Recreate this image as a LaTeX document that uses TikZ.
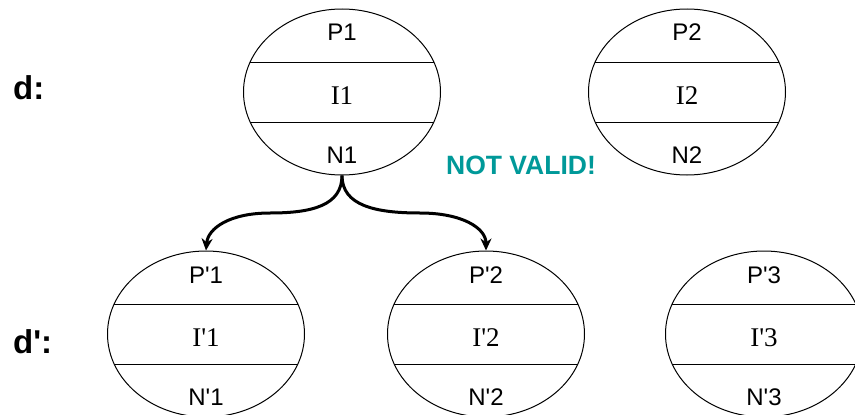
\documentclass[tikz,border=0pt]{standalone}
\usepackage{fontspec}
\setmainfont{Liberation Sans}
\newfontfamily\myserif{Liberation Serif}
\usetikzlibrary{shapes.geometric,arrows.meta,calc}
\definecolor{notvalidcol}{RGB}{0,153,153}
\newcommand\qq{\textquotesingle}
\newcommand\mycell[6]{%
  \node[cellshape] (#1) at (#2,#3) {};
  \draw[chord] ($(#1.center)+(-91.8,-30)$) -- ($(#1.center)+(91.8,-30)$);
  \draw[chord] ($(#1.center)+(-91.8,30)$) -- ($(#1.center)+(91.8,30)$);
  \node[plab] (#1p) at ($(#1.center)+(0,-51)$) {#4};
  \node[ilab] (#1i) at ($(#1.center)+(0,12)$) {#5};
  \node[plab] (#1n) at ($(#1.center)+(0,71)$) {#6};
}
\begin{document}
\begin{tikzpicture}[x=1pt,y=-1pt,
  cellshape/.style={draw,ellipse,line width=1pt,minimum width=197pt,minimum height=166pt,inner sep=0pt},
  chord/.style={line width=1pt},
  plab/.style={anchor=base,inner sep=0pt,font=\fontsize{24}{28}\selectfont},
  ilab/.style={anchor=base,inner sep=0pt,font=\myserif\fontsize{27}{32}\selectfont},
  dlab/.style={anchor=base west,inner sep=0pt,font=\bfseries\fontsize{33}{40}\selectfont},
  link/.style={line width=3pt,-{Stealth[length=12pt,width=11pt]}}]
\useasboundingbox (0,0) rectangle (855,415);
\mycell{a}{342}{92}{P1}{I1}{N1}
\mycell{b}{687}{92}{P2}{I2}{N2}
\mycell{c}{206}{334}{P\qq1}{I\qq1}{N\qq1}
\mycell{d}{486}{334}{P\qq2}{I\qq2}{N\qq2}
\mycell{e}{764}{334}{P\qq3}{I\qq3}{N\qq3}
\node[dlab] (dtop) at (13,99) {d:};
\node[dlab] (dbot) at (13,353) {d\qq:};
\node[anchor=base west,inner sep=0pt,text=notvalidcol,font=\bfseries\fontsize{26.5}{31}\selectfont] (nv) at (446,174) {NOT VALID!};
\draw[link] (a.south) .. controls +(0,30) and (312,213) .. (270,213) .. controls (230,213) and (208,228) .. (c.north);
\draw[link] (a.south) .. controls +(0,30) and (375,213) .. (420,213) .. controls (462,213) and (486,228) .. (d.north);
\end{tikzpicture}
\end{document}
